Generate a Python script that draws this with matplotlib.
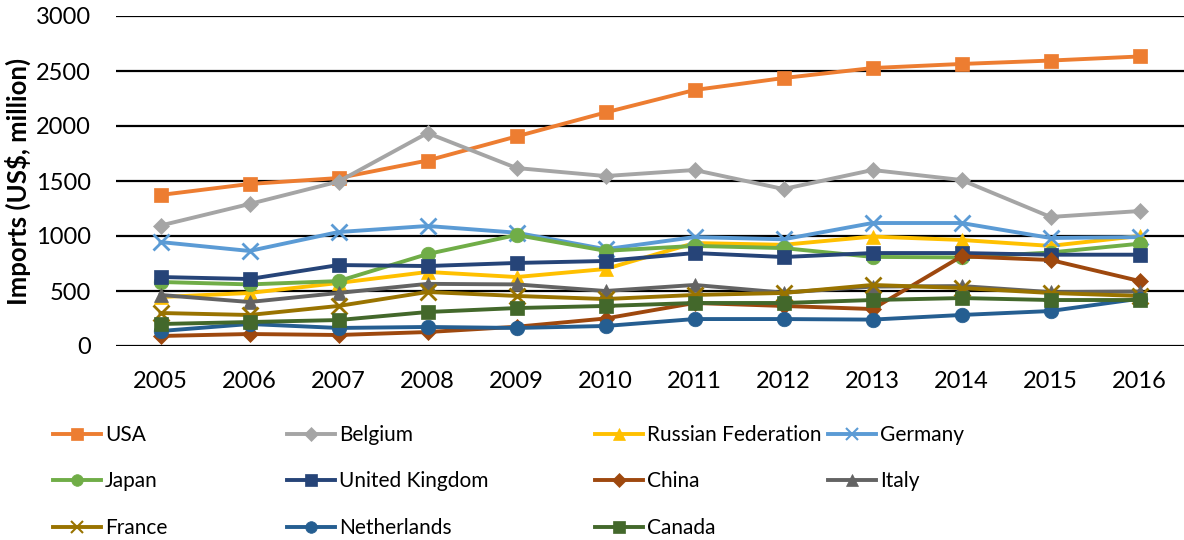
import matplotlib
matplotlib.use("Agg")
import matplotlib.pyplot as plt
from matplotlib.lines import Line2D

plt.rcParams['font.family'] = ['Lato', 'DejaVu Sans']

years = ['2005', '2006', '2007', '2008', '2009', '2010', '2011', '2012', '2013', '2014', '2015', '2016']

usa = [1373, 1473, 1527, 1686, 1905, 2123, 2327, 2436, 2527, 2564, 2595, 2632]
belgium = [1095, 1291, 1495, 1936, 1618, 1545, 1600, 1427, 1600, 1509, 1173, 1227]
russia = [445, 482, 573, 673, 627, 700, 936, 920, 995, 964, 910, 1000]
germany = [945, 864, 1036, 1091, 1030, 880, 990, 970, 1118, 1118, 982, 990]
japan = [582, 560, 590, 836, 1009, 865, 910, 890, 810, 805, 850, 930]
uk = [627, 609, 736, 727, 755, 773, 845, 809, 845, 845, 830, 830]
china = [91, 109, 100, 127, 175, 250, 391, 364, 336, 815, 782, 591]
italy = [464, 400, 482, 565, 560, 500, 555, 485, 540, 545, 490, 495]
france = [300, 282, 364, 491, 455, 427, 464, 482, 555, 527, 482, 455]
netherlands = [136, 200, 164, 173, 164, 182, 245, 245, 240, 282, 318, 430]
canada = [200, 218, 236, 309, 345, 364, 391, 391, 418, 436, 418, 418]

series = [
    ('USA', usa, '#ED7D31', 's', 10.5),
    ('Belgium', belgium, '#A5A5A5', 'D', 8.5),
    ('Russian Federation', russia, '#FFC000', '^', 10.5),
    ('Germany', germany, '#5B9BD5', 'x', 11),
    ('Japan', japan, '#70AD47', 'o', 10.5),
    ('United Kingdom', uk, '#264478', 's', 10.5),
    ('China', china, '#9E480E', 'D', 8.5),
    ('Italy', italy, '#636363', '^', 10.5),
    ('France', france, '#997300', 'x', 11),
    ('Netherlands', netherlands, '#255E91', 'o', 10.5),
    ('Canada', canada, '#43682B', 's', 10.5),
]

fig = plt.figure(figsize=(11.84, 5.40), dpi=100)
ax = fig.add_axes([116/1184, 1-346/540, 1-116/1184, 330/540])

x = list(range(len(years)))
handles = {}
for name, vals, col, mk, ms in series:
    ax.plot(x, vals, color=col, lw=2.8, marker=mk, markersize=ms,
            markeredgewidth=2 if mk == 'x' else 0.5, markeredgecolor=col,
            markerfacecolor=col, label=name, zorder=3)
    handles[name] = Line2D([0], [0], color=col, lw=2.8, marker=mk,
                           markersize=ms*0.8, markeredgewidth=1.5 if mk == 'x' else 0.5,
                           markeredgecolor=col, markerfacecolor=col)

ax.set_xlim(-0.5, 11.5)
ax.set_ylim(0, 3000)
ax.set_yticks(range(0, 3001, 500))
ax.set_xticks(x)
ax.set_xticklabels(years)
ax.grid(axis='y', color='black', lw=1.6, zorder=1)
ax.set_axisbelow(True)
for s in ax.spines.values():
    s.set_visible(False)
ax.tick_params(axis='both', length=0, labelsize=17, colors='black')
ax.tick_params(axis='y', pad=18)
ax.tick_params(axis='x', pad=18)
ax.set_ylabel('Imports (US$, million)', fontsize=18.5, fontweight='bold')
ax.yaxis.set_label_coords(-0.08, 0.5)

cols = [
    (['USA', 'Japan', 'France'], 53),
    (['Belgium', 'United Kingdom', 'Netherlands'], 287),
    (['Russian Federation', 'China', 'Canada'], 595),
    (['Germany', 'Italy'], 828),
]
for names, px in cols:
    fig.legend([handles[n] for n in names], names,
               loc='upper left', bbox_to_anchor=(px/1184, 1-425/540),
               frameon=False, fontsize=15, handlelength=2.3,
               handletextpad=0.2, labelspacing=1.27, borderpad=0,
               borderaxespad=0)

fig.savefig('out.png', dpi=100)
